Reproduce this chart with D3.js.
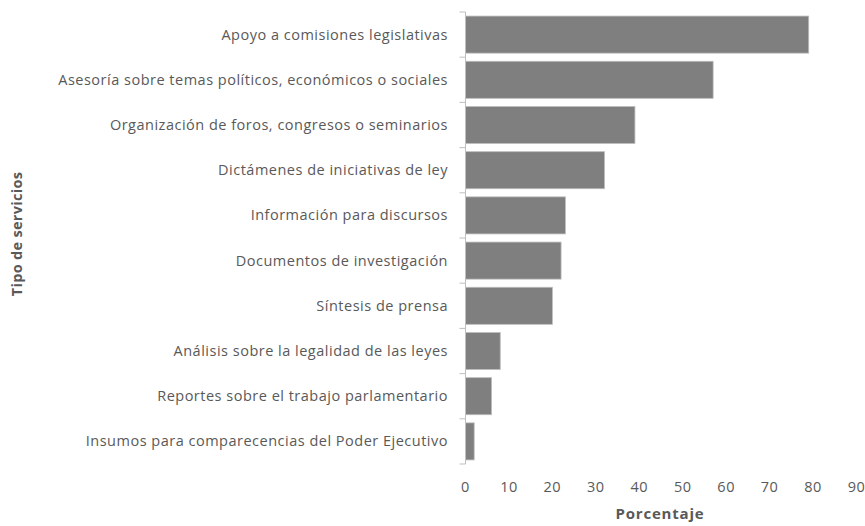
<!DOCTYPE html>
<html><head><meta charset="utf-8">
<script src="https://cdn.jsdelivr.net/npm/d3@7"></script>
<style>body{margin:0;background:#fff}svg{display:block}text{font-family:"Open Sans",sans-serif}</style>
</head><body><svg id="c" width="865" height="526"></svg>
<script>
const categories = [
  "Apoyo a comisiones legislativas",
  "Asesoría sobre temas políticos, económicos o sociales",
  "Organización de foros, congresos o seminarios",
  "Dictámenes de iniciativas de ley",
  "Información para discursos",
  "Documentos de investigación",
  "Síntesis de prensa",
  "Análisis sobre la legalidad de las leyes",
  "Reportes sobre el trabajo parlamentario",
  "Insumos para comparecencias del Poder Ejecutivo"
];
const values = [79, 57, 39, 32, 23, 22, 20, 8, 6, 2];
const xTicks = [0,10,20,30,40,50,60,70,80,90];
const xTitle = "Porcentaje";
const yTitle = "Tipo de servicios";

const svg = d3.select("#c");
const m = {left:465.5, top:12, right:856.5, bottom:464};
const x = d3.scaleLinear().domain([0,90]).range([m.left, m.right]);
const y = d3.scaleBand().domain(categories).range([m.top, m.bottom]).paddingInner(0.18).paddingOuter(0.09);

svg.append("g").selectAll("rect").data(values).join("rect")
  .attr("x", x(0)).attr("y", (d,i)=>y(categories[i]))
  .attr("width", d=>x(d)-x(0)).attr("height", y.bandwidth())
  .attr("fill", "#7f7f7f").attr("stroke","#bdbdbd").attr("stroke-width",0.8);

// y axis
const ya = svg.append("g");
ya.append("line").attr("x1",m.left).attr("x2",m.left).attr("y1",m.top).attr("y2",m.bottom)
  .attr("stroke","#bfbfbf").attr("stroke-width",1);
const bounds = d3.range(categories.length+1).map(i=>m.top + i*(m.bottom-m.top)/categories.length);
ya.selectAll("line.t").data(bounds).join("line").attr("class","t")
  .attr("x1",m.left-6).attr("x2",m.left).attr("y1",d=>d).attr("y2",d=>d)
  .attr("stroke","#bfbfbf").attr("stroke-width",1);
ya.selectAll("text").data(categories).join("text")
  .attr("x", 448).attr("y", d=>y(d)+y.bandwidth()/2).attr("dy","0.35em")
  .attr("text-anchor","end").attr("fill","#595959").attr("font-size","14.5px")
  .attr("letter-spacing","0.5px").text(d=>d);

// x axis labels
svg.append("g").selectAll("text").data(xTicks).join("text")
  .attr("x", d=>x(d)).attr("y", 487).attr("dy","0.35em")
  .attr("text-anchor","middle").attr("fill","#595959").attr("font-size","14.5px")
  .attr("letter-spacing","0.5px").text(d=>d);

svg.append("text").attr("x", 660).attr("y", 519).attr("text-anchor","middle")
  .attr("font-weight","bold").attr("fill","#595959").attr("font-size","15px")
  .attr("letter-spacing","0.8px").text(xTitle);
svg.append("text").attr("transform","translate(22,234) rotate(-90)").attr("text-anchor","middle")
  .attr("font-weight","bold").attr("fill","#595959").attr("font-size","14.5px")
  .attr("letter-spacing","0.3px").text(yTitle);
</script></body></html>
